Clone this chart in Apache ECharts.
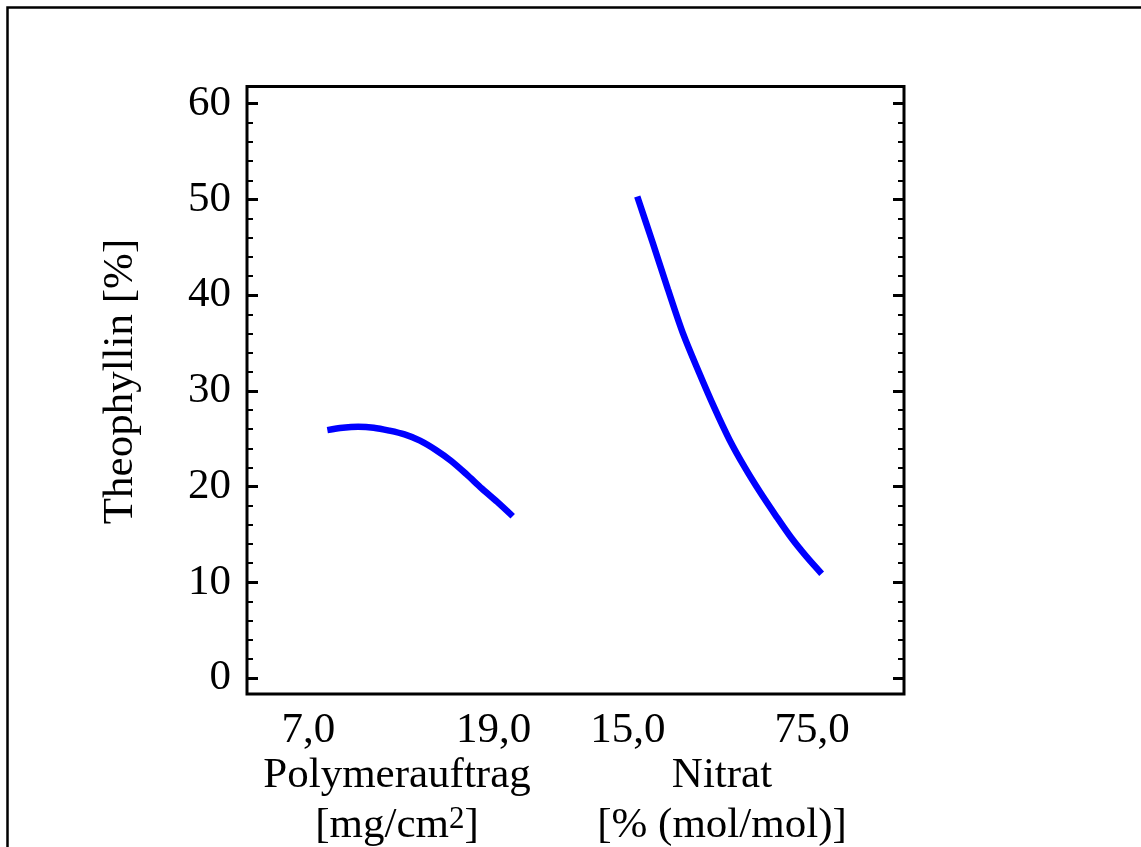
<!DOCTYPE html>
<html><head><meta charset="utf-8">
<script src="https://cdn.jsdelivr.net/npm/echarts@6/dist/echarts.min.js"></script>
<style>html,body{margin:0;padding:0;background:#fff}#c{width:1141px;height:847px}</style>
</head><body><div id="c"></div>
<script>
// Data
const polymerX = [7, 8, 9, 10, 11, 12, 13, 14, 15, 16, 17, 18, 19];
const polymerY = [25.9, 26.15, 26.25, 26.15, 25.85, 25.45, 24.8, 23.85, 22.7, 21.3, 19.8, 18.4, 16.9];
const nitratX = [15, 20, 25, 30, 35, 40, 45, 50, 55, 60, 65, 70, 75];
const nitratY = [50.3, 45.5, 40.6, 35.9, 32.0, 28.3, 24.9, 22.0, 19.4, 17.0, 14.7, 12.7, 10.9];
const yMajorTicks = [0, 10, 20, 30, 40, 50, 60];
const yMinorTicks = [2, 4, 6, 8, 12, 14, 16, 18, 22, 24, 26, 28, 32, 34, 36, 38, 42, 44, 46, 48, 52, 54, 56, 58];
const polymerTicks = [7, 19];
const nitratTicks = [15, 75];
const yTitle = 'Theophyllin [%]';
const polymerTitle = 'Polymerauftrag';
const polymerUnit = '{n|[mg/cm}{s|2}{n|]}';
const nitratTitle = 'Nitrat';
const nitratUnit = '[% (mol/mol)]';

const FONT = '"Liberation Serif", "Times New Roman", serif';
const FS = 43;
const fmt = v => Number(v).toFixed(1).replace('.', ',');

const chart = echarts.init(document.getElementById('c'), null, {renderer: 'canvas'});

function yAx(pos, ticks, len, width, labels) {
  return {
    type: 'value', position: pos, min: -1.67, max: 61.8,
    axisLine: {show: false, onZero: false},
    splitLine: {show: false},
    axisTick: {show: true, inside: true, length: len, customValues: ticks,
      lineStyle: {color: '#000', width: width}},
    axisLabel: labels ? {show: true, customValues: yMajorTicks, margin: 16,
      color: '#000', fontFamily: FONT, fontSize: FS} : {show: false}
  };
}
function xAx(min, max, ticks, pad) {
  return {
    type: 'value', position: 'bottom', min: min, max: max,
    axisLine: {show: false, onZero: false}, axisTick: {show: false}, splitLine: {show: false},
    axisLabel: {show: true, customValues: ticks, formatter: fmt, margin: 15,
      padding: [0, pad, 0, 0],
      color: '#000', fontFamily: FONT, fontSize: FS}
  };
}
function txt(x, y, text, extra) {
  return Object.assign({type: 'text', x: x, y: y, silent: true,
    style: Object.assign({text: text, fontFamily: FONT, fontSize: FS, fill: '#000',
      align: 'center', verticalAlign: 'middle'}, extra || {})});
}

chart.setOption({
  animation: false,
  backgroundColor: '#fff',
  grid: {left: 247, right: 237, top: 86.5, bottom: 153, show: true,
    borderColor: '#000', borderWidth: 3, backgroundColor: 'transparent'},
  xAxis: [xAx(1.8, 44.33, polymerTicks, 38), xAx(-112.0, 101.8, nitratTicks, 19)],
  yAxis: [
    yAx('left', yMajorTicks, 11, 3, true),
    yAx('left', yMinorTicks, 6, 2, false),
    yAx('right', yMajorTicks, 11, 3, false),
    yAx('right', yMinorTicks, 6, 2, false)
  ],
  graphic: [
    {type: 'rect', shape: {x: 7.5, y: 7.5, width: 1300, height: 1000},
      style: {fill: 'none', stroke: '#000', lineWidth: 2.5}, silent: true},
    Object.assign(txt(121, 381.5, yTitle), {rotation: Math.PI / 2}),
    txt(397, 776, polymerTitle),
    txt(397, 826, polymerUnit, {rich: {
      n: {fontFamily: FONT, fontSize: FS, fill: '#000', verticalAlign: 'middle'},
      s: {fontFamily: FONT, fontSize: 31, fill: '#000', verticalAlign: 'top'}}}),
    txt(722, 776, nitratTitle),
    txt(722, 826, nitratUnit)
  ],
  series: [
    {type: 'line', xAxisIndex: 0, yAxisIndex: 0, showSymbol: false, smooth: 0.3,
      data: polymerX.map((x, i) => [x, polymerY[i]]),
      lineStyle: {color: '#0000ff', width: 6.5, cap: 'butt'}},
    {type: 'line', xAxisIndex: 1, yAxisIndex: 0, showSymbol: false, smooth: 0.3,
      data: nitratX.map((x, i) => [x, nitratY[i]]),
      lineStyle: {color: '#0000ff', width: 6.5, cap: 'butt'}}
  ]
});
</script></body></html>
